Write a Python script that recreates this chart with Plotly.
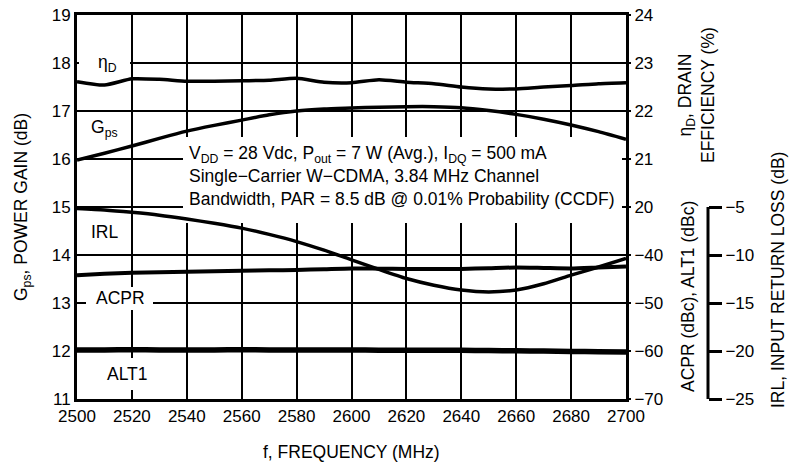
import plotly.graph_objects as go

freq = [2500, 2510, 2520, 2530, 2540, 2550, 2560, 2570, 2580, 2590, 2600,
        2610, 2620, 2630, 2640, 2650, 2660, 2670, 2680, 2690, 2700]
gps = [15.98, 16.12, 16.27, 16.43, 16.58, 16.70, 16.81, 16.92, 17.00, 17.04, 17.06,
       17.08, 17.09, 17.09, 17.07, 17.01, 16.93, 16.83, 16.71, 16.57, 16.41]
eta_d = [22.61, 22.54, 22.67, 22.66, 22.62, 22.62, 22.63, 22.64, 22.68, 22.60, 22.59,
         22.65, 22.60, 22.57, 22.50, 22.46, 22.46, 22.50, 22.53, 22.57, 22.59]
irl = [-5.15, -5.3, -5.55, -5.85, -6.25, -6.7, -7.2, -7.85, -8.6, -9.5, -10.5,
       -11.5, -12.45, -13.15, -13.65, -13.85, -13.65, -13.0, -12.1, -11.25, -10.35]
acpr = [-44.2, -43.9, -43.7, -43.6, -43.5, -43.4, -43.3, -43.2, -43.1, -42.95, -42.8,
        -42.85, -42.9, -42.9, -42.9, -42.75, -42.6, -42.7, -42.8, -42.6, -42.4]
alt1 = [-59.8, -59.78, -59.75, -59.78, -59.8, -59.78, -59.75, -59.78, -59.8, -59.8, -59.8,
        -59.82, -59.82, -59.84, -59.85, -59.9, -59.95, -60.02, -60.1, -60.15, -60.2]

x_ticks = list(range(2500, 2701, 20))
gps_ticks = list(range(11, 20))
eta_ticks = [20, 21, 22, 23, 24]
acpr_ticks = [-70, -60, -50, -40]
irl_ticks = [-25, -20, -15, -10, -5]

FONT = "Liberation Sans, Arial, sans-serif"
FS = 17
AFS = 17.5
W, H = 793, 474
L, R, T, B = 77, 10, 15, 75
PW = W - L - R
PH = H - T - B
XDOM = (626 - L) / PW
X0, X1 = 2500, 2700
Y0, Y1 = 11, 19


def px(X):
    return (X - L) / PW


def py(Y):
    return (H - B - Y) / PH


def dx(X):
    return X0 + (X - L) / (626 - L) * (X1 - X0)


def dy(Y):
    return Y1 - (Y - T) / PH * (Y1 - Y0)


fig = go.Figure()
line = dict(color="black", width=3.5, shape="spline", smoothing=0.6)
fig.add_trace(go.Scatter(x=freq, y=gps, mode="lines", line=line, yaxis="y"))
fig.add_trace(go.Scatter(x=freq, y=eta_d, mode="lines", line=line, yaxis="y2"))
fig.add_trace(go.Scatter(x=freq, y=acpr, mode="lines",
                         line=dict(color="black", width=4, shape="spline", smoothing=0.6),
                         yaxis="y3"))
fig.add_trace(go.Scatter(x=freq, y=alt1, mode="lines",
                         line=dict(color="black", width=5.5, shape="spline", smoothing=0.6),
                         yaxis="y3"))
fig.add_trace(go.Scatter(x=freq, y=irl, mode="lines", line=line, yaxis="y4"))

tickfont = dict(family=FONT, size=FS, color="black")

fig.update_layout(
    width=W, height=H,
    margin=dict(l=L, r=R, t=T, b=B, autoexpand=False),
    paper_bgcolor="white", plot_bgcolor="white",
    showlegend=False,
    font=dict(family=FONT, size=FS, color="black"),
    xaxis=dict(domain=[0, XDOM], range=[X0, X1], tickvals=x_ticks,
               showgrid=True, gridcolor="black", gridwidth=1.5,
               showline=True, linecolor="black", linewidth=2.5, mirror=True,
               ticks="", tickfont=tickfont, zeroline=False, automargin=False),
    yaxis=dict(range=[Y0, Y1], tickvals=gps_ticks,
               showgrid=True, gridcolor="black", gridwidth=1.5,
               showline=True, linecolor="black", linewidth=3, mirror=True,
               ticks="", tickfont=tickfont, zeroline=False, automargin=False),
    yaxis2=dict(range=[16, 24], tickvals=eta_ticks, overlaying="y", side="right",
                anchor="x", showgrid=False, zeroline=False, showline=False,
                ticks="outside", ticklen=4, tickwidth=1.5, tickcolor="black",
                tickfont=tickfont, automargin=False),
    yaxis3=dict(range=[-70, 10], tickvals=acpr_ticks, overlaying="y", side="right",
                anchor="x", showgrid=False, zeroline=False, showline=False,
                ticks="outside", ticklen=4, tickwidth=1.5, tickcolor="black",
                tickfont=tickfont, automargin=False),
    yaxis4=dict(range=[-25, 15], tickvals=irl_ticks, overlaying="y", side="right",
                anchor="free", position=px(708), showgrid=False, zeroline=False,
                showline=False, ticks="outside", ticklen=13, tickwidth=3,
                tickcolor="black", tickfont=tickfont, automargin=False),
)

# IRL axis line (only over its labelled span)
fig.add_shape(type="line", xref="paper", yref="y4", x0=px(708), x1=px(708),
              y0=-25, y1=-5, line=dict(color="black", width=3))

# white patches that hide gridlines behind texts (drawn between grid and curves)
patches = [
    (183, 622, 137, 223),   # conditions text
    (79, 130, 52, 74),      # eta_D label
    (86, 153, 287, 310),    # ACPR label
    (104, 150, 358, 390),   # ALT1 label
]
for x0, x1, y0, y1 in patches:
    fig.add_shape(type="rect", xref="x", yref="y", x0=dx(x0), x1=dx(x1),
                  y0=dy(y1), y1=dy(y0), fillcolor="white", line=dict(width=0),
                  layer="between")

annots = [
    dict(text="V<sub>DD</sub> = 28 Vdc, P<sub>out</sub> = 7 W (Avg.), I<sub>DQ</sub> = 500 mA<br>"
              "Single\u2212Carrier W\u2212CDMA, 3.84 MHz Channel<br>"
              "Bandwidth, PAR = 8.5 dB @ 0.01% Probability (CCDF)",
         x=px(187), y=py(176), xanchor="left", align="left"),
    dict(text="\u03b7<sub>D</sub>", x=px(107), y=py(63)),
    dict(text="G<sub>ps</sub>", x=px(104), y=py(128)),
    dict(text="IRL", x=px(105), y=py(232)),
    dict(text="ACPR", x=px(120), y=py(298)),
    dict(text="ALT1", x=px(127), y=py(374)),
    dict(text="G<sub>ps</sub>, POWER GAIN (dB)", x=px(22), y=py(207), textangle=-90),
    dict(text="f, FREQUENCY (MHz)", x=px(351), y=py(452)),
    dict(text="\u03b7<sub>D</sub>, DRAIN<br>EFFICIENCY (%)", x=px(696), y=py(95),
         textangle=-90),
    dict(text="ACPR (dBc), ALT1 (dBc)", x=px(688), y=py(297), textangle=-90),
    dict(text="IRL, INPUT RETURN LOSS (dB)", x=px(778), y=py(280), textangle=-90),
]
for a in annots:
    base = dict(xref="paper", yref="paper", showarrow=False,
                xanchor="center", yanchor="middle",
                font=dict(family=FONT, size=AFS, color="black"))
    base.update(a)
    fig.add_annotation(**base)

fig.write_html("out.html", config={"displayModeBar": False},
               post_script="document.body.style.margin='0';document.body.style.overflow='hidden';")
